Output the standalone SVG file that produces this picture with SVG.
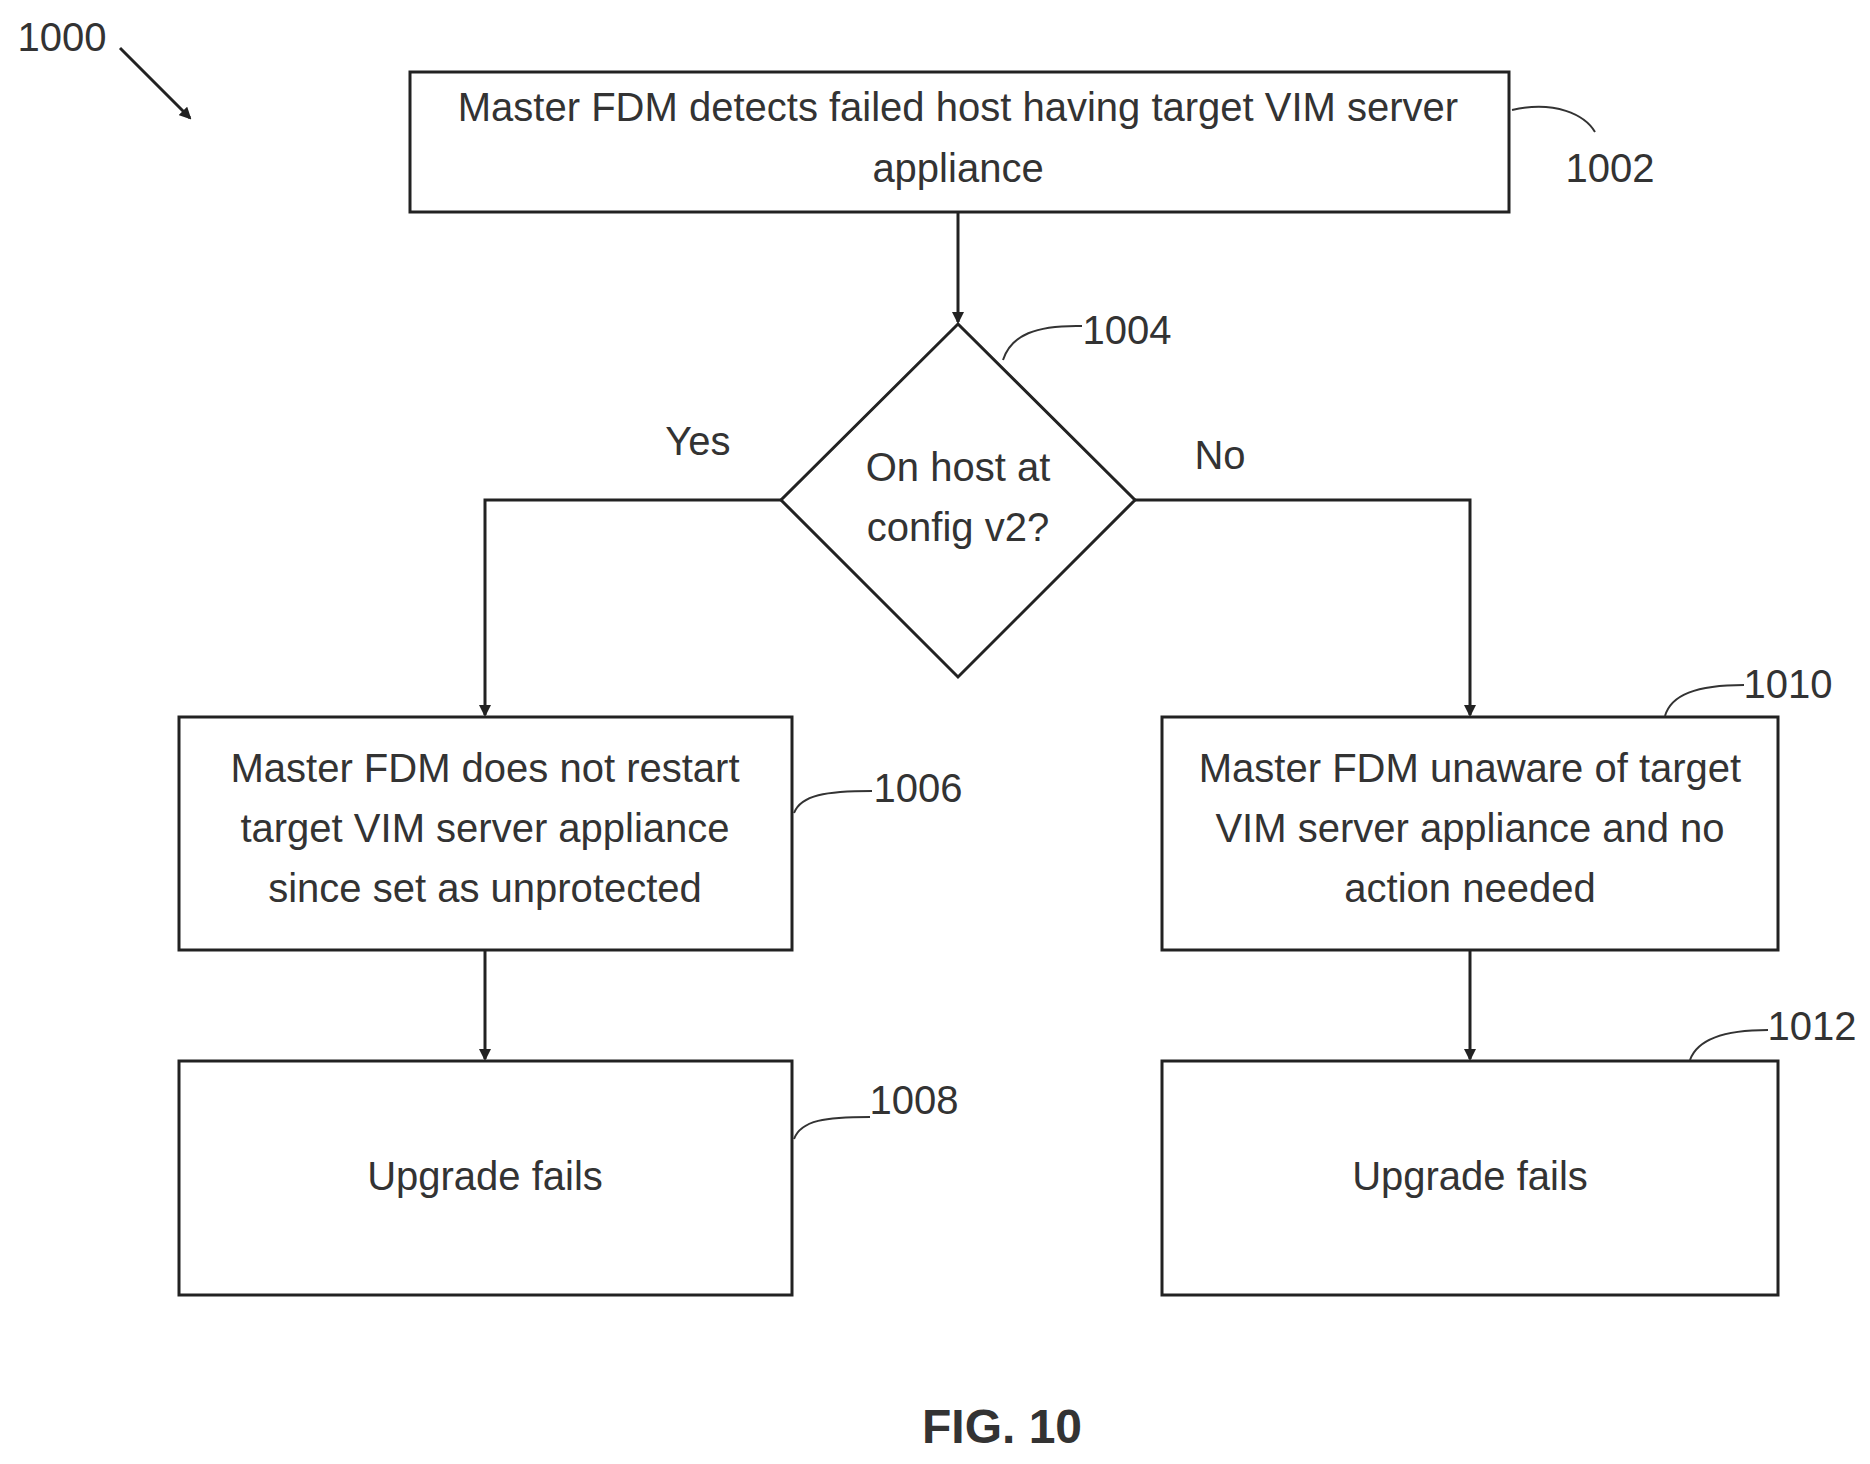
<svg xmlns="http://www.w3.org/2000/svg" width="1870" height="1464" viewBox="0 0 1870 1464">
<style>
.b{fill:#fff;stroke:#222;stroke-width:3}
.t{font-family:"Liberation Sans",Arial,sans-serif;font-size:40px;fill:#333;text-anchor:middle;dominant-baseline:middle}
.c{fill:none;stroke:#222;stroke-width:3}
.l{fill:none;stroke:#333;stroke-width:2}
</style>
<defs><marker id="a" markerWidth="12" markerHeight="12" refX="10" refY="6" orient="auto" markerUnits="userSpaceOnUse"><path d="M0,0 L12,6 L0,12 Z" fill="#222"/></marker></defs>
<rect width="1870" height="1464" fill="#fff"/>
<g id="connectors">
<path class="c" d="M958,212 V322" marker-end="url(#a)"/>
<path class="c" d="M781,500 H485 V715" marker-end="url(#a)"/>
<path class="c" d="M1135,500 H1470 V715" marker-end="url(#a)"/>
<path class="c" d="M485,950 V1059" marker-end="url(#a)"/>
<path class="c" d="M1470,950 V1059" marker-end="url(#a)"/>
<text class="t" x="698" y="444">Yes</text>
<text class="t" x="1220" y="458">No</text>
</g>
<g id="n1002"><rect class="b" x="410" y="72" width="1099" height="140"/>
<text class="t" x="958" y="110">Master FDM detects failed host having target VIM server</text>
<text class="t" x="958" y="171">appliance</text>
<path class="l" d="M1512,110 C1555,100 1585,115 1595,132"/><text class="t" x="1610" y="171">1002</text></g>
<g id="n1004"><polygon class="b" points="958,324 1135,500 958,677 781,500"/>
<text class="t" x="958" y="470">On host at</text><text class="t" x="958" y="530">config v2?</text>
<path class="l" d="M1003,360 C1011,335 1036,325 1082,326"/><text class="t" x="1127" y="333">1004</text></g>
<g id="n1006"><rect class="b" x="179" y="717" width="613" height="233"/>
<text class="t" x="485" y="771">Master FDM does not restart</text>
<text class="t" x="485" y="831">target VIM server appliance</text>
<text class="t" x="485" y="891">since set as unprotected</text>
<path class="l" d="M794,813 C801,795 826,791 872,791"/><text class="t" x="918" y="791">1006</text></g>
<g id="n1008"><rect class="b" x="179" y="1061" width="613" height="234"/>
<text class="t" x="485" y="1179">Upgrade fails</text>
<path class="l" d="M794,1139 C801,1120 826,1117 870,1117"/><text class="t" x="914" y="1103">1008</text></g>
<g id="n1010"><rect class="b" x="1162" y="717" width="616" height="233"/>
<text class="t" x="1470" y="771">Master FDM unaware of target</text>
<text class="t" x="1470" y="831">VIM server appliance and no</text>
<text class="t" x="1470" y="891">action needed</text>
<path class="l" d="M1665,716 C1671,695 1696,685 1744,685"/><text class="t" x="1788" y="687">1010</text></g>
<g id="n1012"><rect class="b" x="1162" y="1061" width="616" height="234"/>
<text class="t" x="1470" y="1179">Upgrade fails</text>
<path class="l" d="M1690,1060 C1697,1040 1722,1030 1768,1030"/><text class="t" x="1812" y="1029">1012</text></g>
<g id="fig">
<text class="t" x="62" y="40">1000</text>
<path class="c" d="M120,48 L190,118" marker-end="url(#a)"/>
<text class="t" x="1002" y="1430" style="font-weight:bold;font-size:48px">FIG. 10</text>
</g>
</svg>
